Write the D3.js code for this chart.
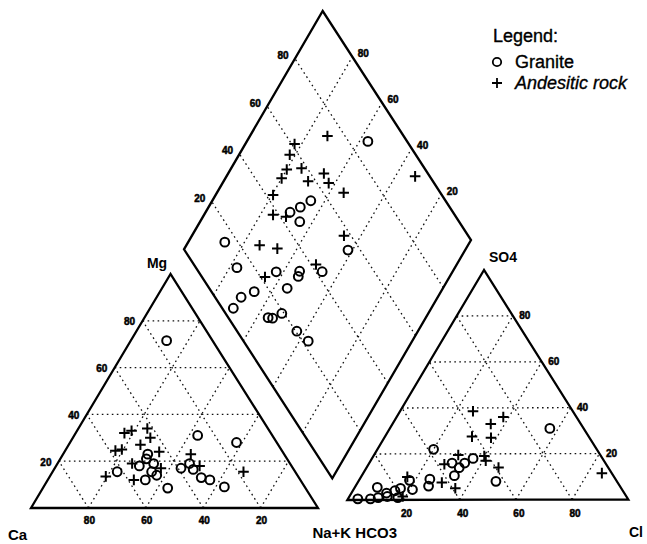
<!DOCTYPE html>
<html><head><meta charset="utf-8">
<script src="https://cdn.jsdelivr.net/npm/d3@7"></script>
<style>
body{margin:0;background:#fff;}
svg{display:block;}
text{font-family:"Liberation Sans",Arial,sans-serif;fill:#000;}
</style>
</head><body>
<svg id="c" width="647" height="544"></svg>
<script>
// ---------------- DATA ----------------
const tickValues = [20, 40, 60, 80];
const tickLabels = ["20", "40", "60", "80"];

// Cation triangle: [Mg %, Ca %]  (Na+K = remainder)
const cationGranite = [[71.5,16],[31,26],[28,14],[23,47.5],[15.5,62],[18,53],[19,47.5],[15.5,50],[14,49],[12,54],[21,49],[17,39],[19,35],[16.5,35],[13,34],[12,31.5],[9,28],[8.5,48]];
const cationAndesite = [[32,51],[33,48],[34,42],[30,43],[27,48],[24.5,58],[25,55.5],[24,43],[19,55],[13.5,67],[12,58],[23,32.5],[18,32],[15.5,18],[17,46]];

// Anion triangle: [SO4 %, Cl %]  (HCO3 = remainder)
const anionGranite = [[31,57],[22,20],[16,29.5],[14,33],[16,34],[18,36],[10.5,33],[8,49],[9,25],[6,26],[8.5,18],[4.5,21],[5,16.5],[5.5,8],[1.5,13.5],[1,17.5],[0.5,3.5],[0.5,8],[1,10.5],[4,15],[3,12.5]];
const anionAndesite = [[38.5,26],[36,38],[33,35],[27.5,31],[27,38],[19.5,30],[15.5,27],[19,39.5],[17,41],[14,47],[5,36],[7.5,30],[10,16.5],[1.5,19],[11.5,85]];

// Diamond: [Ca+Mg %, SO4+Cl %]
const diamondGranite = [[57,86.6],[65,54],[67.4,49],[70,44.4],[64.6,45.6],[87,15.5],[41.6,55.8],[77.4,14],[62.6,26.5],[54.4,34.6],[53.8,33],[46.3,42.2],[66.3,14.6],[69.8,8.9],[55.3,26.6],[70.3,3.8],[56,13.6],[54.3,15],[52,19.2],[43,20.4],[36.9,22.1]];
const diamondAndesite = [[72.5,74],[82.5,61],[82,57],[75,58],[80,52.7],[80,49],[66,64.5],[70,57.4],[62.3,64],[55,67],[79.6,42.4],[75.5,38],[70.5,42],[33,95],[46,57.6],[74,26.7],[67,32],[65.5,21.5],[50,41.7]];

const legendLabels = ["Granite", "Andesitic rock"];

// ---------------- LAYOUT ----------------
const svg = d3.select("#c");
const pct = d3.scaleLinear().domain([0, 100]).range([0, 1]);

function ternary(top, left, right) {
  return (t, l) => {
    const ft = pct(t), fl = pct(l), fr = 1 - ft - fl;
    return [top[0]*ft + left[0]*fl + right[0]*fr, top[1]*ft + left[1]*fl + right[1]*fr];
  };
}
function diamond(bottom, left, right) {
  return (a, b) => {
    const fa = pct(a), fb = pct(b);
    return [bottom[0] + fa*(left[0]-bottom[0]) + fb*(right[0]-bottom[0]),
            bottom[1] + fa*(left[1]-bottom[1]) + fb*(right[1]-bottom[1])];
  };
}

const cat = ternary([170.5,274],[31,508],[318,508]);      // (Mg, Ca)
const an  = ternary([484,270],[347.3,500],[628.3,499.5]);  // (SO4, HCO3)
const anP = (so4, cl) => an(so4, 100 - so4 - cl);
const dia = diamond([332.3,478.3],[184,249.3],[471,240]);

const line = d3.line();
const gGrid = svg.append("g").attr("fill","none").attr("stroke","#111")
  .attr("stroke-width",1.3).attr("stroke-dasharray","1.6,3.4");
const gOut = svg.append("g").attr("fill","none").attr("stroke","#000")
  .attr("stroke-width",2.3).attr("stroke-linejoin","miter");

tickValues.forEach(k => {
  gGrid.append("path").attr("d", line([cat(k, 100-k), cat(k, 0)]));
  gGrid.append("path").attr("d", line([cat(0, k), cat(100-k, k)]));
  gGrid.append("path").attr("d", line([cat(0, 100-k), cat(100-k, 0)]));
});
gOut.append("path").attr("d", line([cat(100,0), cat(0,100), cat(0,0)]) + "Z");

tickValues.forEach(k => {
  gGrid.append("path").attr("d", line([anP(k, 0), anP(k, 100-k)]));
  gGrid.append("path").attr("d", line([anP(0, k), anP(100-k, k)]));
  gGrid.append("path").attr("d", line([anP(0, 100-k), anP(100-k, 0)]));
});
gOut.append("path").attr("d", line([anP(100,0), anP(0,0), anP(0,100)]) + "Z");

tickValues.forEach(k => {
  gGrid.append("path").attr("d", line([dia(k, 0), dia(k, 100)]));
  gGrid.append("path").attr("d", line([dia(0, k), dia(100, k)]));
});
gOut.append("path").attr("d", line([dia(0,0), dia(100,0), dia(100,100), dia(0,100)]) + "Z");

// ---------------- MARKERS ----------------
const R = 4.4, P = 5.3;
function circles(data, f) {
  svg.append("g").selectAll("circle").data(data).join("circle")
    .attr("cx", d => f(d[0], d[1])[0]).attr("cy", d => f(d[0], d[1])[1])
    .attr("r", R).attr("fill", "none").attr("stroke", "#000").attr("stroke-width", 2);
}
function pluses(data, f) {
  svg.append("g").selectAll("path").data(data).join("path")
    .attr("d", d => { const [x, y] = f(d[0], d[1]);
      return `M${x-P},${y}H${x+P}M${x},${y-P}V${y+P}`; })
    .attr("fill", "none").attr("stroke", "#000").attr("stroke-width", 2);
}
circles(cationGranite, cat);  pluses(cationAndesite, cat);
circles(anionGranite, anP);   pluses(anionAndesite, anP);
circles(diamondGranite, dia); pluses(diamondAndesite, dia);

// ---------------- TICK LABELS ----------------
const gT = svg.append("g").attr("font-size", 10).attr("font-weight", "bold")
  .attr("stroke", "#000").attr("stroke-width", 0.5)
  .attr("text-anchor", "middle").attr("dominant-baseline", "central");
tickValues.forEach((k, i) => {
  let p = cat(k, 100-k);  gT.append("text").attr("x", p[0]-13).attr("y", p[1]+1).text(tickLabels[i]);
  p = cat(0, k);          gT.append("text").attr("x", p[0]+1).attr("y", p[1]+12).text(tickLabels[i]);
  p = anP(k, 100-k);      gT.append("text").attr("x", p[0]+12).attr("y", p[1]).text(tickLabels[i]);
  p = anP(0, k);          gT.append("text").attr("x", p[0]+3).attr("y", p[1]+14).text(tickLabels[i]);
  p = dia(100, k);        gT.append("text").attr("x", p[0]-12).attr("y", p[1]-3).text(tickLabels[i]);
  p = dia(k, 100);        gT.append("text").attr("x", p[0]+11).attr("y", p[1]-3).text(tickLabels[i]);
});

// ---------------- AXIS TITLES ----------------
const gA = svg.append("g").attr("font-size", 14).attr("font-weight", "bold");
gA.append("text").attr("x", 157).attr("y", 268).attr("text-anchor", "middle").text("Mg");
gA.append("text").attr("x", 489).attr("y", 262).text("SO4");
gA.append("text").attr("x", 8).attr("y", 540).attr("font-size", 15).text("Ca");
gA.append("text").attr("x", 397).attr("y", 538).attr("text-anchor", "end").attr("font-size", 15).text("Na+K HCO3");
gA.append("text").attr("x", 629).attr("y", 537).text("Cl");

// ---------------- LEGEND ----------------
const gL = svg.append("g").attr("font-size", 18).attr("stroke", "#000").attr("stroke-width", 0.35);
gL.append("text").attr("x", 493).attr("y", 42).text("Legend:");
gL.append("circle").attr("cx", 497).attr("cy", 62).attr("r", 4.2)
  .attr("fill", "none").attr("stroke", "#000").attr("stroke-width", 1.8);
gL.append("text").attr("x", 515).attr("y", 68).text(legendLabels[0]);
gL.append("path").attr("d", "M492,83H502M497,78V88").attr("stroke", "#000").attr("stroke-width", 1.8);
gL.append("text").attr("x", 515).attr("y", 89).attr("font-style", "italic").text(legendLabels[1]);
</script>
</body></html>
